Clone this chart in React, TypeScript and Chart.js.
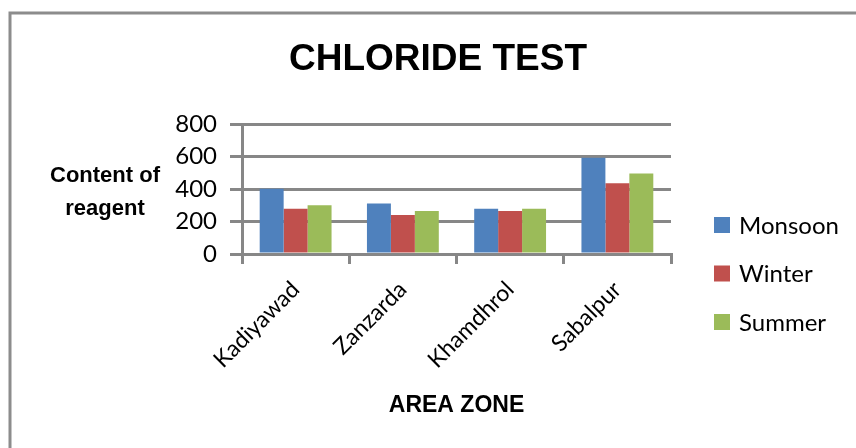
import React, { useEffect, useRef } from "react";
import { Chart, registerables } from "chart.js";

Chart.register(...registerables);

const chartTitle = "CHLORIDE TEST";
const yTitleLines = ["Content of", "reagent"];
const xTitle = "AREA ZONE";
const categories = ["Kadiyawad", "Zanzarda", "Khamdhrol", "Sabalpur"];
const seriesNames = ["Monsoon", "Winter", "Summer"];
const monsoon = [402, 311, 278, 593];
const winter = [278, 240, 265, 435];
const summer = [300, 265, 278, 496];
const seriesColors = ["#4F81BD", "#C0504D", "#9BBB59"];
const yMax = 800;
const yStep = 200;

const GRAY = "#878787";

const decorPlugin = {
  id: "decor",
  beforeDraw(chart: any) {
    const { ctx, width, height } = chart;
    ctx.save();
    ctx.fillStyle = "#ffffff";
    ctx.fillRect(0, 0, width, height);
    ctx.strokeStyle = "#8c8c8c";
    ctx.lineWidth = 3;
    ctx.beginPath();
    ctx.moveTo(10, height);
    ctx.lineTo(10, 13);
    ctx.lineTo(width, 13);
    ctx.stroke();
    ctx.restore();
  },
  afterDraw(chart: any) {
    const { ctx } = chart;
    ctx.save();
    ctx.fillStyle = "#000000";
    ctx.textAlign = "center";
    ctx.textBaseline = "alphabetic";
    ctx.font = "bold 37px 'Liberation Sans'";
    ctx.fillText(chartTitle, 438, 70);
    ctx.font = "bold 22px 'Liberation Sans'";
    yTitleLines.forEach((line, i) => {
      ctx.fillText(line, 105, 182 + i * 33);
    });
    // legend
    const ds = chart.data.datasets;
    ctx.textAlign = "left";
    ctx.textBaseline = "middle";
    ctx.font = "24px Lato";
    ds.forEach((d: any, i: number) => {
      const cy = 225 + i * 48.5;
      ctx.fillStyle = d.backgroundColor;
      ctx.fillRect(714, cy - 8, 16, 16);
      ctx.fillStyle = "#000000";
      ctx.fillText(d.label, 739, cy + 1);
    });
    ctx.restore();
  },
};

export default function App() {
  const ref = useRef<HTMLCanvasElement>(null);
  useEffect(() => {
    if (!ref.current) return;
    const values = [monsoon, winter, summer];
    const chart = new Chart(ref.current, {
      type: "bar",
      data: {
        labels: categories,
        datasets: seriesNames.map((name, i) => ({
          label: name,
          data: values[i],
          backgroundColor: seriesColors[i],
          borderWidth: 0,
          categoryPercentage: 0.67,
          barPercentage: 1.0,
        })),
      },
      options: {
        responsive: false,
        animation: false,
        devicePixelRatio: 1,
        layout: { padding: { left: 150, top: 124, right: 185, bottom: 29 } },
        plugins: {
          legend: { display: false },
          title: { display: false },
          tooltip: { enabled: false },
        },
        scales: {
          x: {
            afterFit: (s: any) => {
              s.height = 165;
            },
            grid: {
              drawOnChartArea: false,
              drawTicks: true,
              tickLength: 10,
              color: GRAY,
              lineWidth: 3,
            },
            border: { color: GRAY, width: 3 },
            ticks: {
              autoSkip: false,
              maxRotation: 45,
              minRotation: 45,
              padding: 12,
              color: "#000000",
              font: { family: "Lato", size: 23 },
            },
            title: {
              display: true,
              text: xTitle,
              color: "#000000",
              padding: { top: 0, bottom: 0 },
              font: { family: "'Liberation Sans'", size: 23, weight: "bold" },
            },
          },
          y: {
            min: 0,
            max: yMax,
            afterFit: (s: any) => {
              s.width = 92;
            },
            grid: {
              color: GRAY,
              lineWidth: 3,
              tickLength: 12,
            },
            border: { color: GRAY, width: 3 },
            ticks: {
              stepSize: yStep,
              padding: 13,
              color: "#000000",
              font: { family: "Lato", size: 24 },
            },
          },
        },
      },
      plugins: [decorPlugin],
    });
    return () => chart.destroy();
  }, []);
  return (
    <canvas
      ref={ref}
      width={856}
      height={448}
      style={{ position: "absolute", left: 0, top: 0, display: "block" }}
    />
  );
}
